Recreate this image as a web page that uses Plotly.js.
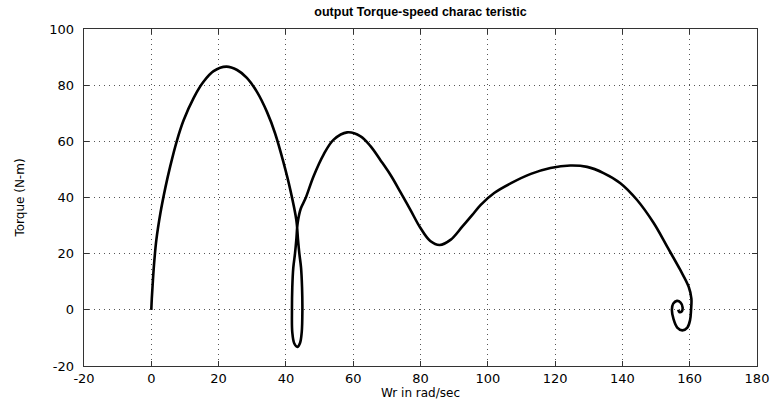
<!DOCTYPE html>
<html>
<head>
<meta charset="utf-8">
<script src="https://cdn.plot.ly/plotly-3.0.1.min.js"></script>
<style>
html,body{margin:0;padding:0;background:#fff;}
#chart{width:773px;height:401px;}
</style>
</head>
<body>
<div id="chart"></div>
<script>
// Rotor speed (rad/s)
const wr = [0, 0.15, 0.4, 0.8, 1.5, 2.7, 4.2, 5.6, 7.6, 9.6, 12.6, 15.5, 18.5, 22.3, 25.5, 28.4, 31.4, 34.4, 36.8, 39.3, 41.3, 43.1, 43.6, 44.0, 44.5, 44.8, 44.9, 44.7, 44.2, 43.4, 42.5, 41.9, 41.8, 41.9, 42.2, 42.7, 43.1, 43.5, 44.4, 45.8, 48.2, 51.2, 54.2, 58.2, 62.2, 65.2, 68.1, 71.1, 74, 77, 79.9, 82.9, 85.7, 88.9, 92.4, 95.4, 97.9, 101.9, 106.9, 112.8, 118.6, 124.5, 129.5, 134.4, 139.4, 144.3, 149.3, 153.3, 157.2, 159.7, 160.5, 160.4, 160.1, 159.3, 157.8, 156.3, 155.2, 154.7, 155.1, 156.2, 157.3, 157.9, 157.6, 156.9, 156.6];
// Electromagnetic torque (N-m)
const torque = [0, 4, 9, 16, 24.9, 34.4, 43.6, 51, 60.2, 67.5, 75.5, 81.2, 85, 86.6, 85.4, 82.6, 77.6, 70.4, 62.8, 52.4, 42.8, 32, 25, 20, 15, 8, 0, -8, -11.8, -13.2, -12, -8, 0, 8, 15, 20, 25, 31, 36, 39.6, 47.5, 55.3, 60.6, 63.2, 61.8, 58.2, 53.3, 48, 42, 35.6, 29.3, 24.5, 23.1, 24.9, 29.6, 33.8, 37.4, 41.6, 45.1, 48.4, 50.5, 51.4, 50.9, 48.7, 45.1, 39.2, 30.9, 22.5, 14.2, 8.2, 4, 0, -3.7, -6.3, -7.3, -6.3, -3.3, 0, 2.2, 3.2, 2.6, 0.8, -0.6, -0.8, 0];

const xTicks = [-20, 0, 20, 40, 60, 80, 100, 120, 140, 160, 180];
const yTicks = [-20, 0, 20, 40, 60, 80, 100];

const tickFont = {family: 'DejaVu Sans', size: 13, color: '#000'};
const axisCommon = {
  showline: true, linecolor: '#333', linewidth: 1.3, mirror: 'ticks',
  ticks: 'inside', ticklen: 5, tickcolor: '#333', tickwidth: 1,
  showgrid: true, gridcolor: '#555', gridwidth: 1, griddash: '1px,4px',
  zeroline: false, tickfont: tickFont, tickmode: 'array'
};

Plotly.newPlot('chart', [{
  x: wr, y: torque, type: 'scatter', mode: 'lines',
  line: {color: '#000', width: 2.6, shape: 'spline', smoothing: 1},
  hoverinfo: 'skip'
}], {
  width: 773, height: 401,
  margin: {l: 84, r: 16, t: 29, b: 35},
  paper_bgcolor: '#fff', plot_bgcolor: '#fff',
  showlegend: false,
  title: {text: '<b>output Torque-speed charac teristic</b>', x: 0.544, xanchor: 'center', y: 0.97, yanchor: 'middle',
          font: {family: 'Liberation Sans', size: 12.5, color: '#000'}},
  xaxis: Object.assign({}, axisCommon, {
    range: [-20, 180], tickvals: xTicks, ticktext: xTicks.map(String),
    ticklabelstandoff: 0,
    title: {text: 'Wr in rad/sec', font: {family: 'DejaVu Sans', size: 12, color: '#000'}, standoff: 0}
  }),
  yaxis: Object.assign({}, axisCommon, {
    range: [-20, 100], tickvals: yTicks, ticktext: yTicks.map(String),
    ticklabelstandoff: 6,
    title: {text: 'Torque (N-m)', font: {family: 'DejaVu Sans', size: 12, color: '#000'}, standoff: 22}
  })
}, {displayModeBar: false, staticPlot: true});
</script>
</body>
</html>
